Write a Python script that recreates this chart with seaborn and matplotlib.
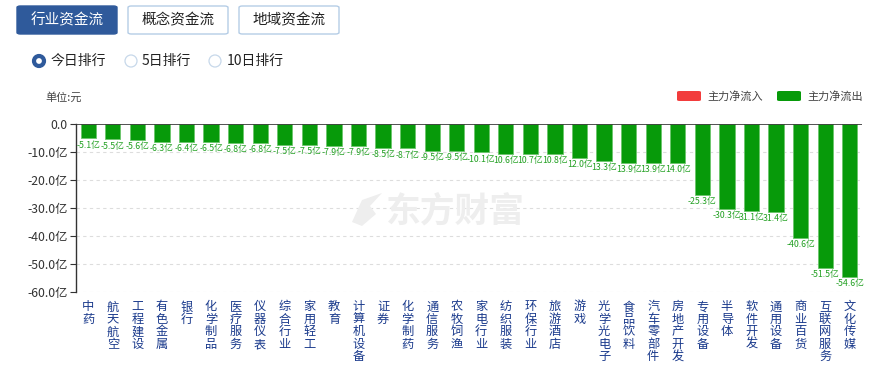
import matplotlib
matplotlib.use("Agg")
import matplotlib.pyplot as plt
import seaborn as sns
import pandas as pd
from matplotlib.patches import FancyBboxPatch, Ellipse, Polygon

categories = ["中药", "航天航空", "工程建设", "有色金属", "银行", "化学制品", "医疗服务", "仪器仪表",
              "综合行业", "家用轻工", "教育", "计算机设备", "证券", "化学制药", "通信服务", "农牧饲渔",
              "家电行业", "纺织服装", "环保行业", "旅游酒店", "游戏", "光学光电子", "食品饮料", "汽车零部件",
              "房地产开发", "专用设备", "半导体", "软件开发", "通用设备", "商业百货", "互联网服务", "文化传媒"]
values = [-5.1, -5.5, -5.6, -6.3, -6.4, -6.5, -6.8, -6.8, -7.5, -7.5, -7.9, -7.9, -8.5, -8.7, -9.5, -9.5,
          -10.1, -10.6, -10.7, -10.8, -12.0, -13.3, -13.9, -13.9, -14.0, -25.3, -30.3, -31.1, -31.4,
          -40.6, -51.5, -54.6]
yticks = [0, -10, -20, -30, -40, -50, -60]
ytick_labels = ["0.0", "-10.0亿", "-20.0亿", "-30.0亿", "-40.0亿", "-50.0亿", "-60.0亿"]

sns.set_theme(style="white")
plt.rcParams['font.family'] = ['Noto Sans CJK SC', 'DejaVu Sans']

W, H = 876, 366
fig = plt.figure(figsize=(W / 100, H / 100), dpi=100)

def fx(x):
    return x / W

def fy(y):
    return 1 - y / H

ax = fig.add_axes([fx(76), fy(292), fx(862) - fx(76), fy(124) - fy(292)])

df = pd.DataFrame({"cat": categories, "val": values})
bar_green = "#079a0a"
sns.barplot(data=df, x="cat", y="val", color=bar_green, width=0.62, ax=ax,
            edgecolor="#6cc56c", linewidth=0.6, saturation=1, zorder=3)

ax.set_ylim(-60, 0)
ax.set_xlim(-0.5, len(categories) - 0.5)
ax.set_yticks(yticks)
ax.set_yticklabels(ytick_labels, fontsize=8.8, color="#333333")
ax.set_xlabel("")
ax.set_ylabel("")
ax.set_xticks(range(len(categories)))
ax.set_xticklabels(["\n".join(c) for c in categories], fontsize=8.8, color="#1a3a8c",
                   linespacing=0.95, va="top")
ax.tick_params(axis="x", length=0, pad=6)
ax.tick_params(axis="y", length=4, width=0.8, color="#333333", pad=2, left=True)

for sp in ["top", "right", "bottom"]:
    ax.spines[sp].set_visible(False)
ax.spines["left"].set_color("#333333")
ax.spines["left"].set_linewidth(1.0)

for t in yticks[1:]:
    ax.axhline(t, color="#dddddd", linestyle=(0, (3, 3)), linewidth=0.8, zorder=1)
ax.axhline(0, color="#333333", linewidth=1.2, zorder=4)

# value labels: where a label would run into its left neighbour, the minus sign is clipped (as in the reference)
for i, v in enumerate(values):
    txt = f"{v:.1f}亿"
    if i > 0 and abs(v) >= 10 and abs(values[i - 1]) >= 10 and abs(v - values[i - 1]) < 2.0:
        txt = f"{abs(v):.1f}亿"
    ax.text(i, v - 0.8, txt, ha="center", va="top", fontsize=6.3,
            color="#22a022", zorder=5)

# watermark
fig.text(fx(455), fy(211), "东方财富", fontsize=25, fontweight="bold", color="#eeeeee",
         ha="center", va="center", zorder=0)
leaf = Polygon([(fx(352), fy(222)), (fx(362), fy(200)), (fx(382), fy(193)), (fx(370), fy(206)),
                (fx(376), fy(214)), (fx(362), fy(226))], closed=True, transform=fig.transFigure,
               facecolor="#eeeeee", edgecolor="none", zorder=0)
fig.patches.append(leaf)

# buttons
def button(x0, x1, y0, y1, label, filled):
    p = FancyBboxPatch((fx(x0), fy(y1)), fx(x1) - fx(x0), fy(y0) - fy(y1),
                       boxstyle="round,pad=0,rounding_size=0.004",
                       transform=fig.transFigure, facecolor="#2f5a9b" if filled else "white",
                       edgecolor="#2f5a9b" if filled else "#b5cde6", linewidth=1.0)
    fig.patches.append(p)
    fig.text(fx((x0 + x1) / 2), fy((y0 + y1) / 2), label, fontsize=10.5,
             color="white" if filled else "#222222", ha="center", va="center")

button(17, 117, 6, 34, "行业资金流", True)
button(128, 228, 6, 34, "概念资金流", False)
button(239, 339, 6, 34, "地域资金流", False)

# radios
def radio(cx, cy, selected, label, lx):
    if selected:
        c = Ellipse((fx(cx), fy(cy)), 10 / W, 10 / H, transform=fig.transFigure,
                    facecolor="white", edgecolor="#2f5a9b", linewidth=3.0)
    else:
        c = Ellipse((fx(cx), fy(cy)), 12 / W, 12 / H, transform=fig.transFigure,
                    facecolor="white", edgecolor="#c7d8ea", linewidth=0.9)
    fig.patches.append(c)
    fig.text(fx(lx), fy(cy), label, fontsize=10, color="#222222", ha="left", va="center")

radio(39, 61, True, "今日排行", 51)
radio(131, 61, False, "5日排行", 142)
radio(215, 61, False, "10日排行", 227)

fig.text(fx(45), fy(97), "单位:元", fontsize=8, color="#444444", ha="left", va="center")

# legend
def leg(x0, color, label):
    p = FancyBboxPatch((fx(x0), fy(101)), fx(24), 10 / H,
                       boxstyle="round,pad=0,rounding_size=0.003",
                       transform=fig.transFigure, facecolor=color, edgecolor="none")
    fig.patches.append(p)
    fig.text(fx(x0 + 30), fy(96), label, fontsize=8, color="#444444", ha="left", va="center")

leg(677, "#f23c3c", "主力净流入")
leg(777, "#079a0a", "主力净流出")

fig.savefig("out.png", dpi=100)
